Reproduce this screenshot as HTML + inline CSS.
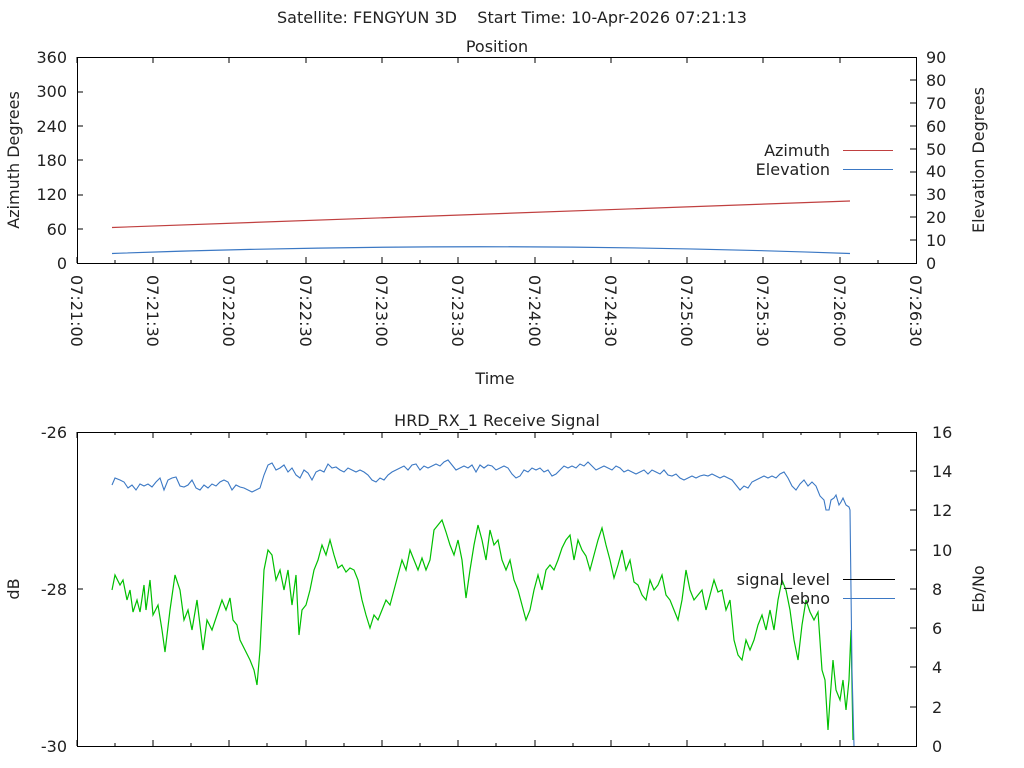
<!DOCTYPE html>
<html><head><meta charset="utf-8"><style>body{margin:0;background:#fff}svg{display:block}text{font-family:"DejaVu Sans","Liberation Sans",sans-serif;font-size:16px;fill:#222}</style></head><body>
<svg width="1024" height="768" xmlns="http://www.w3.org/2000/svg">
<text x="512" y="23" text-anchor="middle">Satellite: FENGYUN 3D&#160;&#160;&#160; Start Time: 10-Apr-2026 07:21:13</text>
<text x="497" y="52" text-anchor="middle">Position</text>
<rect x="77.5" y="57.5" width="839" height="206" fill="none" stroke="#000"/>
<g stroke="#000">
<path d="M77 57v6M153 57v6M229 57v6M306 57v6M382 57v6M458 57v6M535 57v6M611 57v6M687 57v6M763 57v6M840 57v6
M77 263v-6M153 263v-6M229 263v-6M306 263v-6M382 263v-6M458 263v-6M535 263v-6M611 263v-6M687 263v-6M763 263v-6M840 263v-6
M115 263v-3M191 263v-3M267 263v-3M344 263v-3M420 263v-3M496 263v-3M573 263v-3M649 263v-3M725 263v-3M801 263v-3M878 263v-3
M77 92h6M77 126h6M77 160h6M77 195h6M77 229h6
M916 80h-6M916 103h-6M916 126h-6M916 149h-6M916 172h-6M916 195h-6M916 217h-6M916 240h-6"/>
</g>
<g text-anchor="end">
<text x="67" y="63">360</text><text x="67" y="97">300</text><text x="67" y="132">240</text><text x="67" y="166">180</text><text x="67" y="200">120</text><text x="67" y="235">60</text><text x="67" y="269">0</text>
</g>
<g>
<text x="926" y="63">90</text><text x="926" y="86">80</text><text x="926" y="109">70</text><text x="926" y="132">60</text><text x="926" y="155">50</text><text x="926" y="177">40</text><text x="926" y="200">30</text><text x="926" y="223">20</text><text x="926" y="246">10</text><text x="926" y="269">0</text>
</g>
<text transform="translate(19,160) rotate(-90)" text-anchor="middle">Azimuth Degrees</text>
<text transform="translate(984,160) rotate(-90)" text-anchor="middle">Elevation Degrees</text>
<g>
<text transform="translate(71,275) rotate(90)">07:21:00</text>
<text transform="translate(147,275) rotate(90)">07:21:30</text>
<text transform="translate(223,275) rotate(90)">07:22:00</text>
<text transform="translate(300,275) rotate(90)">07:22:30</text>
<text transform="translate(376,275) rotate(90)">07:23:00</text>
<text transform="translate(452,275) rotate(90)">07:23:30</text>
<text transform="translate(529,275) rotate(90)">07:24:00</text>
<text transform="translate(605,275) rotate(90)">07:24:30</text>
<text transform="translate(681,275) rotate(90)">07:25:00</text>
<text transform="translate(757,275) rotate(90)">07:25:30</text>
<text transform="translate(834,275) rotate(90)">07:26:00</text>
<text transform="translate(910,275) rotate(90)">07:26:30</text>
</g>
<text x="495" y="384" text-anchor="middle">Time</text>
<text x="830" y="156" text-anchor="end">Azimuth</text>
<text x="830" y="175" text-anchor="end">Elevation</text>
<path d="M843 150.5h50" stroke="#c04040"/>
<path d="M843 169.5h50" stroke="#3b78c4"/>
<path d="M112 227.5L850 201" stroke="#c04040" fill="none" stroke-width="1.2"/>
<path d="M112 253.5Q480 240 850 253.5" stroke="#3b78c4" fill="none" stroke-width="1.2"/>

<text x="497" y="426" text-anchor="middle">HRD_RX_1 Receive Signal</text>
<rect x="77.5" y="432.5" width="839" height="314" fill="none" stroke="#000"/>
<path stroke="#000" d="M77 746v-6M153 746v-6M229 746v-6M306 746v-6M382 746v-6M458 746v-6M535 746v-6M611 746v-6M687 746v-6M763 746v-6M840 746v-6M115 746v-3M191 746v-3M267 746v-3M344 746v-3M420 746v-3M496 746v-3M573 746v-3M649 746v-3M725 746v-3M801 746v-3M878 746v-3
M77 432v6M153 432v6M229 432v6M306 432v6M382 432v6M458 432v6M535 432v6M611 432v6M687 432v6M763 432v6M840 432v6M115 432v3M191 432v3M267 432v3M344 432v3M420 432v3M496 432v3M573 432v3M649 432v3M725 432v3M801 432v3M878 432v3
M77 589h6M916 471h-6M916 510h-6M916 550h-6M916 589h-6M916 628h-6M916 667h-6M916 707h-6"/>
<g text-anchor="end"><text x="67" y="438">-26</text><text x="67" y="595">-28</text><text x="67" y="752">-30</text></g>
<g><text x="932" y="438">16</text><text x="932" y="477">14</text><text x="932" y="516">12</text><text x="932" y="556">10</text><text x="932" y="595">8</text><text x="932" y="634">6</text><text x="932" y="673">4</text><text x="932" y="713">2</text><text x="932" y="752">0</text></g>
<text transform="translate(19,589) rotate(-90)" text-anchor="middle">dB</text>
<text transform="translate(984,589) rotate(-90)" text-anchor="middle">Eb/No</text>
<polyline fill="none" stroke="#00c000" stroke-width="1.2" points="112,590 115,575 120,585 123,580 127,600 130,590 133,612 137,600 140,612 144,585 146,610 150,580 153,615 158,605 162,630 165,652 170,610 175,575 180,590 184,620 188,610 192,630 197,600 203,650 207,620 212,630 217,615 222,600 226,610 230,598 233,620 237,625 240,640 245,650 250,660 254,670 257,685 260,650 264,570 268,550 272,555 276,580 280,570 284,590 288,570 292,605 296,575 299,635 302,610 306,605 310,590 314,570 318,560 322,545 326,555 330,540 334,555 338,568 342,565 346,572 350,568 354,570 358,580 362,600 366,615 370,628 374,615 378,620 382,610 386,600 390,605 394,590 398,575 402,560 406,570 410,550 414,560 418,570 422,558 426,570 430,560 434,530 438,525 442,520 446,532 450,545 454,555 458,540 462,560 466,598 470,570 474,545 478,525 482,540 486,560 490,530 494,545 498,540 502,560 506,570 510,560 514,580 518,590 522,605 526,620 530,610 534,590 538,575 542,590 546,570 550,565 554,570 558,560 562,548 566,540 570,535 574,560 578,540 582,550 586,556 590,570 594,555 598,540 602,528 606,545 610,560 614,578 618,565 622,550 626,570 630,560 634,582 638,585 642,595 646,600 650,580 654,590 658,585 662,575 666,595 670,600 674,610 678,620 682,600 686,570 690,590 694,600 698,595 702,590 706,610 710,595 714,580 718,592 722,590 726,610 730,600 734,640 738,655 742,660 746,640 750,650 754,640 758,625 762,615 766,630 770,610 774,630 778,600 782,580 786,590 790,610 794,640 798,660 802,625 806,600 810,612 814,620 818,612 822,670 825,680 828,730 830,700 833,660 836,690 840,700 843,680 846,710 849,680 851,630 853,740"/>
<polyline fill="none" stroke="#3b78c4" stroke-width="1.1" points="112,485 115,478 120,480 124,482 128,488 132,485 136,490 140,484 144,486 148,484 152,487 156,482 160,478 164,490 168,480 172,478 176,477 180,486 184,487 188,485 192,480 196,488 200,490 204,485 208,488 212,484 216,486 220,482 224,480 228,482 232,490 236,485 240,487 244,488 248,490 252,492 256,490 260,488 264,475 268,465 272,463 276,470 280,468 284,465 288,472 292,468 296,475 300,478 304,470 308,473 312,480 316,472 320,470 324,472 328,464 332,468 336,467 340,470 344,472 348,468 352,470 356,472 360,470 364,472 368,475 372,480 376,482 380,478 384,480 388,475 392,472 396,470 400,468 404,466 408,470 412,465 416,464 420,470 424,466 428,468 432,466 436,464 440,466 444,462 448,460 452,465 456,470 460,468 464,466 468,468 472,465 476,472 480,465 484,468 488,465 492,466 496,470 500,468 504,466 508,468 512,474 516,478 520,476 524,470 528,472 532,468 536,470 540,468 544,472 548,470 552,476 556,474 560,470 564,466 568,468 572,466 576,468 580,464 584,466 588,462 592,466 596,470 600,468 604,466 608,468 612,470 616,466 620,468 624,472 628,470 632,472 636,474 640,472 644,470 648,474 652,470 656,472 660,474 664,470 668,475 672,476 676,474 680,478 684,480 688,478 692,476 696,478 700,476 704,475 708,476 712,474 716,476 720,478 724,476 728,478 732,480 736,485 740,490 744,486 748,488 752,482 756,480 760,478 764,476 768,478 772,476 776,478 780,474 784,472 788,478 792,486 796,490 800,484 804,480 808,486 812,482 816,486 820,496 824,500 826,510 829,510 831,500 834,498 836,495 839,505 841,502 843,498 846,505 849,507 850,510 852,670 854,746"/>
<text x="830" y="585" text-anchor="end">signal_level</text>
<text x="830" y="604" text-anchor="end">ebno</text>
<path d="M843 579.5h52" stroke="#000"/>
<path d="M843 598.5h52" stroke="#3b78c4"/>
</svg>
</body></html>
